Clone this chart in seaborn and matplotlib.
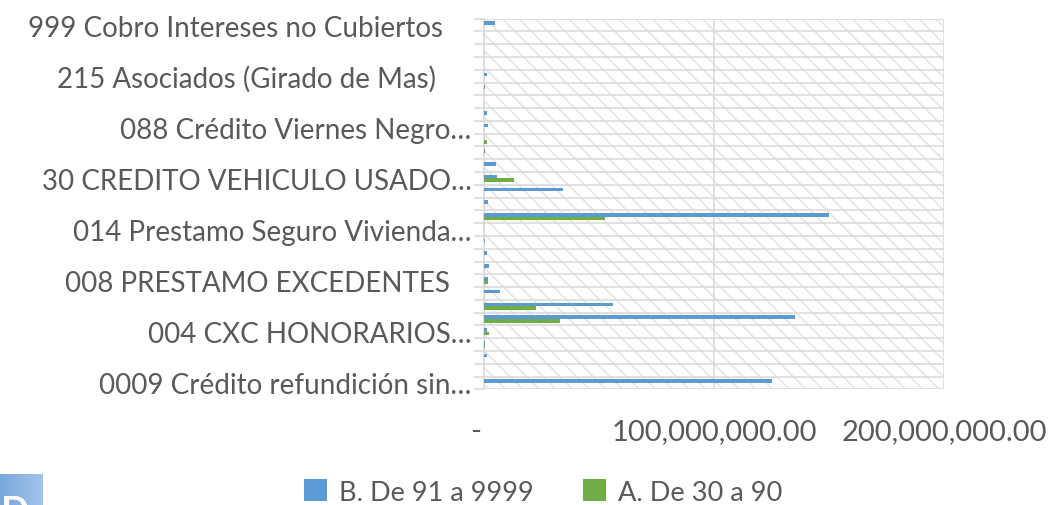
import matplotlib.pyplot as plt
import numpy as np
import pandas as pd
import seaborn as sns
from matplotlib.patches import Rectangle
from matplotlib.colors import LinearSegmentedColormap
from matplotlib.ticker import FixedLocator, FuncFormatter, NullFormatter

# Categorias de arriba hacia abajo (solo una de cada cuatro tiene rotulo visible)
etiquetas = ["999 Cobro Intereses no Cubiertos    ", "", "", "",
             "215 Asociados (Girado de Mas)     ", "", "", "",
             "088 Crédito Viernes Negro…", "", "", "",
             "30 CREDITO VEHICULO USADO…", "", "", "",
             "014 Prestamo Seguro Vivienda…", "", "", "",
             "008 PRESTAMO EXCEDENTES   ", "", "", "",
             "004 CXC HONORARIOS…", "", "", "",
             "0009 Crédito refundición sin…"]

series = ["B. De 91 a 9999", "A. De 30 a 90"]

# saldos en millones, mismo orden que etiquetas
b_91_9999 = [4.8, 0, 0, 0, 1.2, 0.4, 0, 1.2, 1.7, 0, 0.6, 5.1, 5.8, 34.4, 1.9,
             150, 0, 0.5, 1.5, 2.0, 1.8, 6.8, 56.3, 135, 1.4, 0.3, 1.2, 0, 125]
a_30_90 = [0, 0, 0, 0, 0, 0, 0, 0, 0, 1.2, 0, 0, 12.9, 0, 0,
           52.7, 0, 0, 0, 0, 1.7, 0, 22.5, 33, 2.2, 0.3, 0, 0, 0]

ids = ["c%02d" % i for i in range(len(etiquetas))]
df = pd.DataFrame({
    "id": ids * 2,
    "serie": [series[0]] * len(ids) + [series[1]] * len(ids),
    "saldo": np.array(b_91_9999 + a_30_90) * 1e6,
})

sns.set_style("white")
plt.rcParams["font.family"] = ["Lato", "DejaVu Sans"]
plt.rcParams["hatch.linewidth"] = 1.2
gris = "#d9d9d9"
texto = "#595959"

fig = plt.figure(figsize=(10.48, 5.06), dpi=100)
ax = fig.add_axes([484 / 1048, 1 - 390.3 / 506, 460 / 1048, 370.6 / 506])

# fondo rayado del area de trazado
ax.add_patch(Rectangle((0, 0), 1, 1, transform=ax.transAxes, facecolor="white",
                       edgecolor="#e6e6e6", hatch="\\\\", linewidth=0, zorder=0))

sns.barplot(data=df, x="saldo", y="id", hue="serie", order=ids, hue_order=series,
            palette=["#5b9bd5", "#70ad47"], orient="h", width=0.58, saturation=1,
            errorbar=None, linewidth=0, ax=ax, zorder=3)

ax.set_xlim(0, 2e8)
ax.set_ylim(len(ids) - 0.5, -0.5)
ax.set_xlabel("")
ax.set_ylabel("")

# lineas entre categorias
ax.yaxis.set_major_locator(FixedLocator(np.arange(-0.5, len(ids), 1)))
ax.yaxis.set_major_formatter(NullFormatter())
pos_lab = [i for i, t in enumerate(etiquetas) if t]
ax.yaxis.set_minor_locator(FixedLocator(pos_lab))
ax.yaxis.set_minor_formatter(FuncFormatter(lambda v, p: etiquetas[int(round(v))]))
ax.tick_params(axis="y", which="major", length=7, width=1.1, color=gris, left=True)
ax.tick_params(axis="y", which="minor", length=0, pad=9, labelsize=20, labelcolor=texto)
ax.grid(axis="y", which="major", color=gris, linewidth=1.1, zorder=1)

ax.xaxis.set_major_locator(FixedLocator([0, 1e8, 2e8]))
ax.xaxis.set_major_formatter(FuncFormatter(lambda v, p: "-  " if v == 0 else f"{v:,.2f}"))
ax.tick_params(axis="x", length=0, pad=21, labelsize=21, labelcolor=texto)
ax.grid(axis="x", which="major", color=gris, linewidth=1.1, zorder=1)
ax.set_axisbelow(False)

for s in ["top", "right", "bottom"]:
    ax.spines[s].set_visible(False)
ax.spines["left"].set_color(gris)
ax.spines["left"].set_linewidth(1.1)
ax.spines["left"].set_zorder(2)

handles, labels = ax.get_legend_handles_labels()
ax.get_legend().remove()
fig.legend(handles, labels, loc="center", bbox_to_anchor=(543 / 1048, 1 - 493 / 506),
           ncol=2, frameon=False, handlelength=0.85, handleheight=0.85,
           handletextpad=0.45, columnspacing=1.8, fontsize=19.5, labelcolor=texto)

# recuadro azul recortado en la esquina inferior izquierda
bx = fig.add_axes([0, 0, 43 / 1048, 31 / 506])
bx.imshow(np.linspace(0, 1, 50).reshape(1, -1), aspect="auto", extent=[0, 1, 0, 1],
          cmap=LinearSegmentedColormap.from_list("az", ["#7aa7dc", "#a2c4ea"]))
bx.text(0.02, 0.33, "D", color="white", fontsize=27, fontweight="bold", va="top",
        transform=bx.transAxes)
bx.axis("off")

plt.savefig("out.png", dpi=100)
